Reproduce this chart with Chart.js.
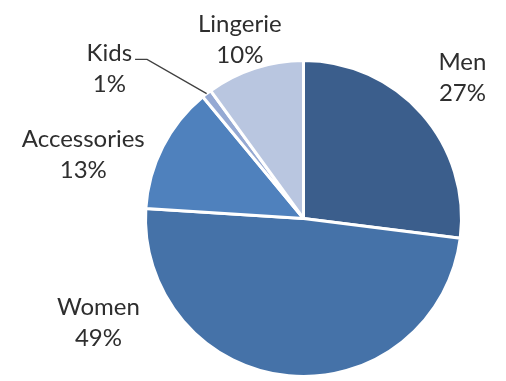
<!DOCTYPE html>
<html>
<head>
<meta charset="utf-8">
<script src="https://cdn.jsdelivr.net/npm/chart.js@4.4.1/dist/chart.umd.min.js"></script>
<style>
  html, body { margin: 0; padding: 0; background: #fff; }
  #wrap { width: 506px; height: 381px; }
</style>
</head>
<body>
<div id="wrap"><canvas id="salesPie" width="506" height="381"></canvas></div>
<script>
// share of sales by category (percent)
const categories = ['Men', 'Women', 'Accessories', 'Kids', 'Lingerie'];
const shares = [27, 49, 13, 1, 10];
const sliceColors = ['#3b5e8c', '#4572a8', '#4f81bd', '#95a9d3', '#b9c6e0'];

// where each two-line label sits, in pie radii from the centre
const labelAnchors = [[1.006, -0.937], [-1.298, 0.613], [-1.394, -0.454], [-1.229, -0.994], [-0.403, -1.178]];
const leaderLines = [false, false, false, true, false];

const FONT = '24px Lato, "Noto Sans", sans-serif';
const LINE_GAP = 31;

const outsideLabels = {
  id: 'outsideLabels',
  afterDatasetsDraw(chart) {
    const ctx = chart.ctx;
    const arcs = chart.getDatasetMeta(0).data;
    const total = shares.reduce((a, b) => a + b, 0);
    ctx.save();
    ctx.font = FONT;
    ctx.fillStyle = '#2e2e2e';
    ctx.textAlign = 'center';
    ctx.textBaseline = 'alphabetic';
    arcs.forEach((arc, i) => {
      const {x, y, outerRadius, startAngle, endAngle} = arc.getProps(['x', 'y', 'outerRadius', 'startAngle', 'endAngle'], true);
      const lx = x + labelAnchors[i][0] * outerRadius;
      const ly = y + labelAnchors[i][1] * outerRadius;
      const pct = Math.round(shares[i] / total * 100) + '%';
      ctx.fillText(categories[i], lx, ly);
      ctx.fillText(pct, lx, ly + LINE_GAP);

      if (leaderLines[i]) {
        const mid = (startAngle + endAngle) / 2;
        const ex = x + Math.cos(mid) * outerRadius;
        const ey = y + Math.sin(mid) * outerRadius;
        const sx = lx + ctx.measureText(categories[i]).width / 2 + 3;
        const sy = ly - 2;
        ctx.beginPath();
        ctx.strokeStyle = '#404040';
        ctx.lineWidth = 1.3;
        ctx.moveTo(sx, sy);
        ctx.lineTo(sx + 12, sy);
        ctx.lineTo(ex, ey);
        ctx.stroke();
      }
    });
    ctx.restore();
  }
};

new Chart(document.getElementById('salesPie'), {
  type: 'pie',
  data: {
    labels: categories,
    datasets: [{
      data: shares,
      backgroundColor: sliceColors,
      borderColor: '#ffffff',
      borderWidth: 3,
      hoverOffset: 0
    }]
  },
  options: {
    responsive: false,
    animation: false,
    layout: { padding: { left: 144, top: 59, right: 43, bottom: 3 } },
    plugins: {
      legend: { display: false },
      tooltip: { enabled: false }
    }
  },
  plugins: [outsideLabels]
});
</script>
</body>
</html>
